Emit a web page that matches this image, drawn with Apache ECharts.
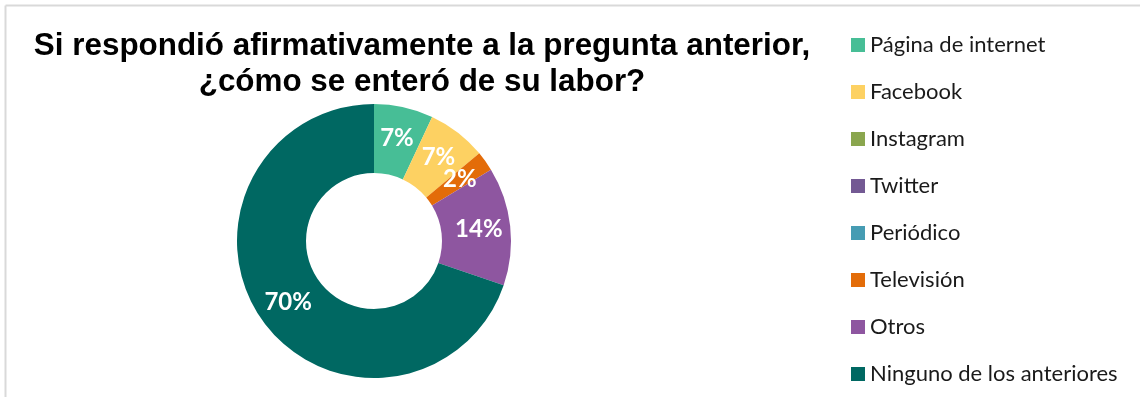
<!DOCTYPE html>
<html>
<head>
<meta charset="utf-8">
<script src="https://cdn.jsdelivr.net/npm/echarts@6/dist/echarts.min.js"></script>
<style>
  html, body { margin: 0; padding: 0; background: #ffffff; }
  #chart { width: 1140px; height: 397px; }
</style>
</head>
<body>
<div id="chart"></div>
<script>
// Survey answers: how respondents learned about the work (response counts)
const categories = [
  'Página de internet',
  'Facebook',
  'Instagram',
  'Twitter',
  'Periódico',
  'Televisión',
  'Otros',
  'Ninguno de los anteriores'
];
const counts = [3, 3, 0, 0, 0, 1, 6, 30];
const colors = ['#47BE96', '#FDD162', '#8AA64E', '#735993', '#469CB3', '#E36C09', '#8E56A0', '#006862'];
const titleLines = ['Si respondió afirmativamente a la pregunta anterior,', '¿cómo se enteró de su labor?'];

const chart = echarts.init(document.getElementById('chart'), null, { renderer: 'canvas' });

chart.setOption({
  backgroundColor: '#ffffff',
  animation: false,
  color: colors,
  title: {
    text: titleLines.join('\n'),
    left: 417,
    top: 23,
    textAlign: 'center',
    textStyle: {
      fontFamily: 'Liberation Sans',
      fontWeight: 'bold',
      fontSize: 31.4,
      lineHeight: 36,
      color: '#000000'
    }
  },
  legend: {
    orient: 'vertical',
    left: 851,
    top: 34,
    padding: 0,
    icon: 'rect',
    itemWidth: 14,
    itemHeight: 14,
    itemGap: 25,
    selectedMode: false,
    data: categories,
    textStyle: {
      fontFamily: 'Lato',
      fontSize: 22,
      lineHeight: 22,
      color: '#1a1a1a'
    }
  },
  graphic: [
    { type: 'line', shape: { x1: 5.5, y1: 5.5, x2: 1140, y2: 5.5 }, style: { stroke: '#d9d9d9', lineWidth: 2 } },
    { type: 'line', shape: { x1: 5.5, y1: 5.5, x2: 5.5, y2: 397 }, style: { stroke: '#d9d9d9', lineWidth: 2 } }
  ],
  series: [{
    type: 'pie',
    center: [374, 241],
    radius: [68, 137],
    startAngle: 90,
    clockwise: true,
    avoidLabelOverlap: false,
    minAngle: 0,
    data: categories.map((name, i) => ({ name, value: counts[i] })),
    label: {
      show: true,
      position: 'inside',
      formatter: p => (p.value > 0 ? Math.round(p.percent) + '%' : ''),
      color: '#ffffff',
      fontFamily: 'Lato',
      fontWeight: 'bold',
      fontSize: 24
    },
    // keep the small "Televisión" label visible even though it spills over its sector
    labelLayout: { hideOverlap: false },
    labelLine: { show: false },
    emphasis: { disabled: true },
    itemStyle: { borderWidth: 0 }
  }]
});
</script>
</body>
</html>
